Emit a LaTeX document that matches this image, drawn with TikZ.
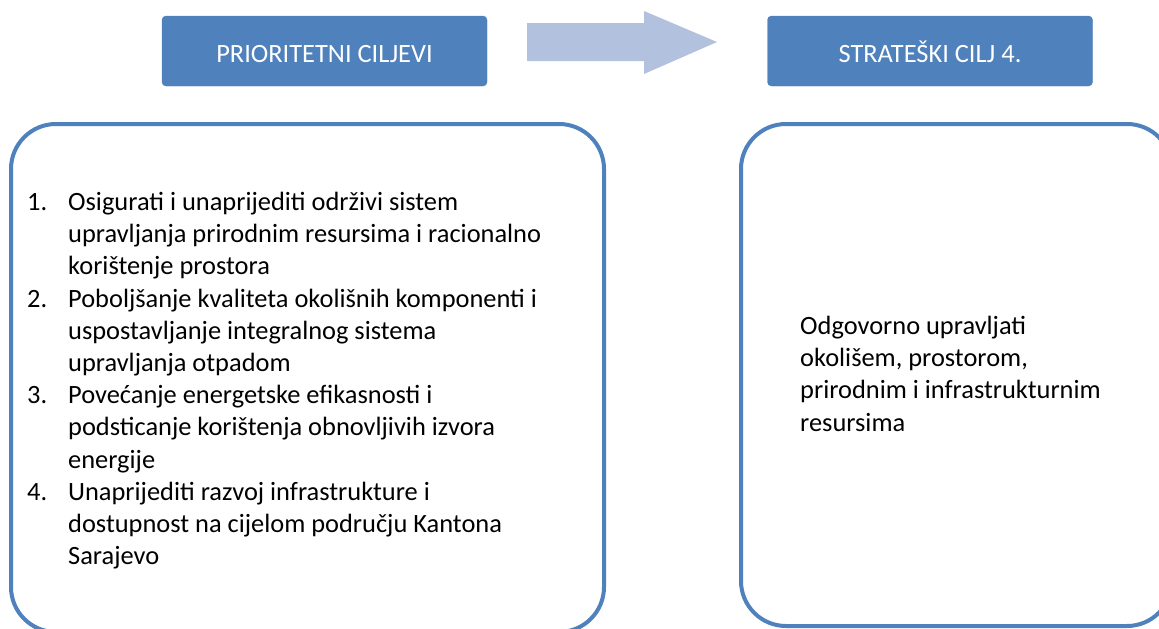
\documentclass[tikz,border=0pt]{standalone}
\usepackage{fontspec}
\setmainfont{Carlito}
\usetikzlibrary{positioning}
\definecolor{boxblue}{RGB}{79,129,189}
\definecolor{boxedge}{RGB}{74,126,187}
\definecolor{arrowblue}{RGB}{178,193,222}
\newcommand{\itemno}[1]{\makebox[41pt][l]{#1}}
\newcommand{\itemgap}{\hspace*{41pt}}
\begin{document}
\begin{tikzpicture}[x=1pt,y=-1pt,
    every node/.style={font=\fontsize{26.4}{32.2}\selectfont},
    headbox/.style={draw=boxedge,fill=boxblue,text=white,rounded corners=4pt,
      minimum width=325pt,minimum height=70pt,inner sep=0pt,
      text height=23pt,text depth=0pt},
    panel/.style={draw=boxblue,line width=4pt,rounded corners=45pt},
    listtext/.style={align=left,inner sep=0pt,anchor=north west}]
    \useasboundingbox (0,0) rectangle (1159,629);
    % headings
    \node[headbox] (prio) at (324.5,51) {PRIORITETNI CILJEVI};
    \node[headbox] (strat) at (930,51) {STRATEŠKI CILJ 4.};
    % block arrow between the headings
    \fill[arrowblue] (527,23) -- (644,23) -- (644,11) -- (717,42)
      -- (644,74) -- (644,61) -- (527,61) -- cycle;
    % the two panels
    \draw[panel] (11,124) rectangle (604,632);
    \draw[panel] (741,124) rectangle (1172,626);
    \node[listtext] (goals) at (27,192) {%
      \itemno{1.}Osigurati i unaprijediti održivi sistem\\
      \itemgap upravljanja prirodnim resursima i racionalno\\
      \itemgap korištenje prostora\\
      \itemno{2.}Poboljšanje kvaliteta okolišnih komponenti i\\
      \itemgap uspostavljanje integralnog sistema\\
      \itemgap upravljanja otpadom\\
      \itemno{3.}Povećanje energetske efikasnosti i\\
      \itemgap podsticanje korištenja obnovljivih izvora\\
      \itemgap energije\\
      \itemno{4.}Unaprijediti razvoj infrastrukture i\\
      \itemgap dostupnost na cijelom području Kantona\\
      \itemgap Sarajevo};
    \node[listtext] (aim) at (800,316) {%
      Odgovorno upravljati\\
      okolišem, prostorom,\\
      prirodnim i infrastrukturnim\\
      resursima};
\end{tikzpicture}
\end{document}
